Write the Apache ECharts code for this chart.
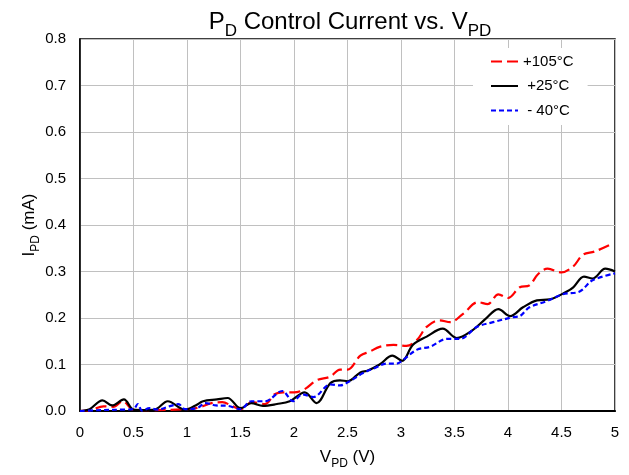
<!DOCTYPE html>
<html>
<head>
<meta charset="utf-8">
<script src="https://cdn.jsdelivr.net/npm/echarts@6/dist/echarts.min.js"></script>
<style>
html,body{margin:0;padding:0;background:#fff;}
#chart{width:629px;height:475px;}
</style>
</head>
<body>
<div id="chart"></div>
<script>
// ---- data ----
var xTicks = [0, 0.5, 1, 1.5, 2, 2.5, 3, 3.5, 4, 4.5, 5];
var yTicks = [0, 0.1, 0.2, 0.3, 0.4, 0.5, 0.6, 0.7, 0.8];
var seriesNames = ['+105°C', ' +25°C', ' - 40°C'];

var x105 = [0, 0.1, 0.22, 0.31, 0.4, 0.5, 0.7, 0.98, 1.1, 1.23, 1.33, 1.42, 1.5, 1.61, 1.73, 1.82, 1.9, 2.0, 2.1, 2.21, 2.34, 2.43, 2.5, 2.62, 2.71, 2.8, 2.93, 3.05, 3.15, 3.24, 3.36, 3.46, 3.58, 3.72, 3.81, 3.91, 4.0, 4.11, 4.2, 4.28, 4.37, 4.5, 4.61, 4.7, 4.81, 4.95];
var y105 = [0, 0.002, 0.01, 0.009, 0.021, 0.003, 0.002, 0.004, 0.007, 0.017, 0.019, 0.011, 0.004, 0.019, 0.015, 0.036, 0.04, 0.04, 0.047, 0.066, 0.074, 0.089, 0.089, 0.119, 0.128, 0.138, 0.142, 0.14, 0.153, 0.181, 0.195, 0.191, 0.209, 0.234, 0.23, 0.251, 0.243, 0.266, 0.27, 0.294, 0.306, 0.298, 0.311, 0.336, 0.343, 0.357];

var x25 = [0, 0.09, 0.21, 0.3, 0.41, 0.5, 0.6, 0.7, 0.82, 0.98, 1.08, 1.15, 1.28, 1.38, 1.5, 1.6, 1.71, 1.84, 1.96, 2.1, 2.21, 2.34, 2.43, 2.5, 2.62, 2.69, 2.8, 2.92, 3.01, 3.11, 3.24, 3.39, 3.52, 3.67, 3.79, 3.91, 4.02, 4.14, 4.27, 4.39, 4.55, 4.61, 4.71, 4.79, 4.91, 5.0];
var y25 = [0, 0.004, 0.023, 0.012, 0.025, 0.003, 0.002, 0.003, 0.021, 0.003, 0.012, 0.021, 0.025, 0.028, 0.006, 0.017, 0.011, 0.015, 0.021, 0.04, 0.017, 0.06, 0.066, 0.064, 0.083, 0.087, 0.10, 0.119, 0.108, 0.142, 0.16, 0.177, 0.157, 0.174, 0.198, 0.219, 0.204, 0.223, 0.238, 0.24, 0.257, 0.266, 0.289, 0.285, 0.306, 0.3];

var xm40 = [0, 0.2, 0.4, 0.5, 0.54, 0.58, 0.65, 0.72, 0.85, 0.92, 0.98, 1.1, 1.17, 1.27, 1.38, 1.5, 1.6, 1.73, 1.89, 1.99, 2.08, 2.18, 2.34, 2.43, 2.52, 2.64, 2.74, 2.87, 2.96, 3.02, 3.15, 3.27, 3.43, 3.55, 3.71, 3.86, 4.05, 4.11, 4.2, 4.36, 4.51, 4.67, 4.79, 5.0];
var ym40 = [0, 0.002, 0.003, 0.004, 0.015, 0.001, 0.006, 0.003, 0.011, 0.015, 0.004, 0.007, 0.017, 0.012, 0.011, 0.004, 0.021, 0.021, 0.043, 0.021, 0.036, 0.03, 0.057, 0.055, 0.064, 0.081, 0.091, 0.102, 0.102, 0.11, 0.132, 0.138, 0.155, 0.155, 0.181, 0.191, 0.202, 0.204, 0.223, 0.236, 0.251, 0.257, 0.281, 0.296];

function pairs(xs, ys) { return xs.map(function (x, i) { return [x, ys[i]]; }); }

var FONT = 'Liberation Sans, Arial, sans-serif';
var nameRich = {
  a: { fontSize: 17, fontFamily: FONT, fontWeight: 'normal', color: '#000', verticalAlign: 'bottom', lineHeight: 20 },
  s: { fontSize: 12, fontFamily: FONT, fontWeight: 'normal', color: '#000', verticalAlign: 'bottom', lineHeight: 14, padding: [0, 0, -4, 0] }
};
var chart = echarts.init(document.getElementById('chart'));
chart.setOption({
  animation: false,
  backgroundColor: '#fff',
  title: {
    text: '{a|P}{s|D}{a| Control Current vs. V}{s|PD}',
    left: 345, textAlign: 'center', top: 1,
    textStyle: {
      fontWeight: 'normal',
      rich: {
        a: { fontSize: 24, fontFamily: FONT, fontWeight: 'normal', color: '#000', verticalAlign: 'bottom', lineHeight: 28 },
        s: { fontSize: 17, fontFamily: FONT, fontWeight: 'normal', color: '#000', verticalAlign: 'bottom', lineHeight: 20, padding: [0, 0, -6, 0] }
      }
    }
  },
  grid: { left: 80, right: 14, top: 39, bottom: 60, show: true, borderColor: '#000', borderWidth: 1.5, containLabel: false },
  legend: {
    orient: 'vertical', left: 473, top: 48,
    backgroundColor: '#fff',
    padding: [6, 14, 7, 17],
    itemWidth: 27, itemHeight: 14, itemGap: 9.5,
    align: 'left',
    itemStyle: { opacity: 0 },
    textStyle: { fontSize: 15, fontFamily: FONT, color: '#000' },
    data: seriesNames
  },
  xAxis: {
    type: 'value', min: xTicks[0], max: xTicks[xTicks.length - 1], interval: 0.5,
    name: '{a|V}{s|PD}{a| (V)}', nameLocation: 'middle', nameGap: 35, nameMoveOverlap: false,
    nameTextStyle: { rich: nameRich },
    axisLine: { show: true, lineStyle: { color: '#000', width: 2 } },
    axisTick: { show: false },
    axisLabel: { fontSize: 15, fontFamily: FONT, color: '#000', margin: 14 },
    splitLine: { show: true, lineStyle: { color: '#c0c0c0', width: 1 } }
  },
  yAxis: {
    type: 'value', min: yTicks[0], max: yTicks[yTicks.length - 1], interval: 0.1,
    name: '{a|I}{s|PD}{a| (mA)}', nameLocation: 'middle', nameGap: 42, nameRotate: 90, nameMoveOverlap: false,
    nameTextStyle: { rich: nameRich },
    axisLine: { show: true, lineStyle: { color: '#000', width: 1.5 } },
    axisTick: { show: false },
    axisLabel: { fontSize: 15, fontFamily: FONT, color: '#000', margin: 14, formatter: function (v) { return v.toFixed(1); } },
    splitLine: { show: true, lineStyle: { color: '#c0c0c0', width: 1 } }
  },
  series: [
    { name: seriesNames[0], type: 'line', data: pairs(x105, y105), smooth: 0.35, showSymbol: false, symbol: 'none',
      lineStyle: { color: '#ff0000', width: 2.2, type: [11, 5] }, itemStyle: { color: '#ff0000' }, z: 3 },
    { name: seriesNames[1], type: 'line', data: pairs(x25, y25), smooth: 0.35, showSymbol: false, symbol: 'none',
      lineStyle: { color: '#000000', width: 2.2, type: 'solid' }, itemStyle: { color: '#000' }, z: 4 },
    { name: seriesNames[2], type: 'line', data: pairs(xm40, ym40), smooth: 0.35, showSymbol: false, symbol: 'none',
      lineStyle: { color: '#0000ff', width: 2.2, type: [5, 3] }, itemStyle: { color: '#0000ff' }, z: 5 }
  ]
});
</script>
</body>
</html>
